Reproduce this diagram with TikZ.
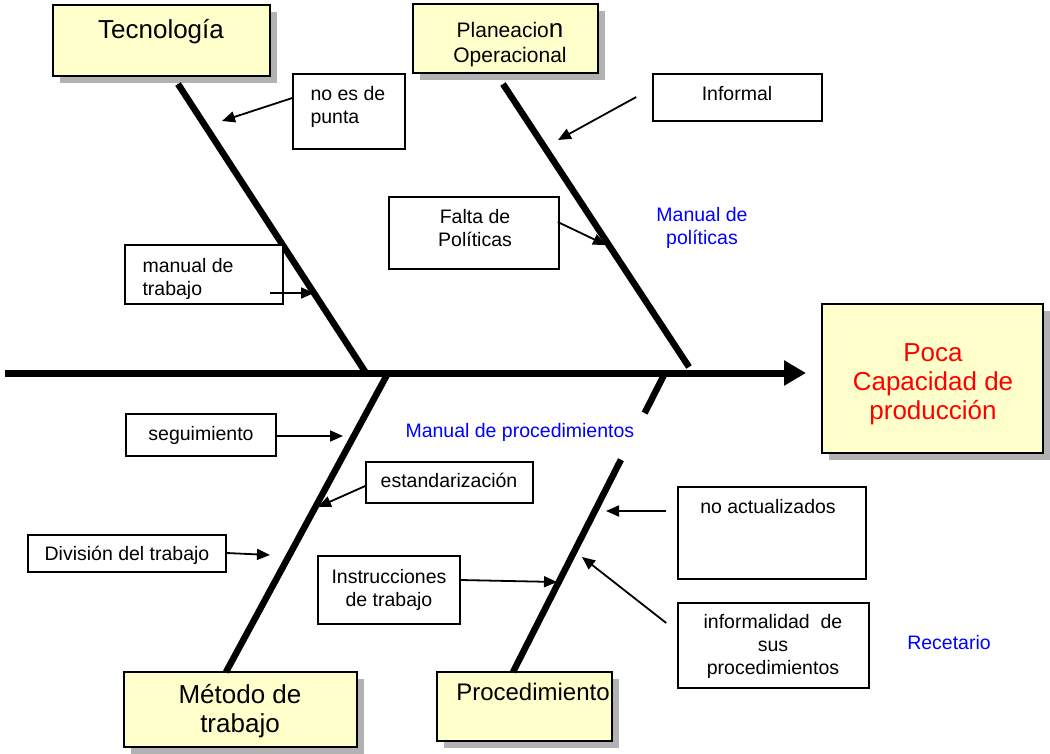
\documentclass[tikz,border=0pt]{standalone}
\usepackage{fontspec}
\setmainfont{Liberation Sans}
\usetikzlibrary{arrows.meta,shadows,calc}
\definecolor{boxyellow}{HTML}{FFFFCC}
\definecolor{shgray}{HTML}{B2B2B2}
\definecolor{txtblue}{HTML}{0000FF}
\definecolor{txtred}{HTML}{FF0000}
\begin{document}
\begin{tikzpicture}[x=1pt,y=-1pt,
  catbox/.style={draw=black, line width=2pt, fill=boxyellow, inner sep=0pt,
    drop shadow={shadow xshift=7pt, shadow yshift=-7pt, fill=shgray, opacity=1}},
  causebox/.style={draw=black, line width=1.5pt, fill=white, inner sep=0pt},
  bone/.style={line width=6.5pt},
  spine/.style={line width=7pt, -{Triangle[length=22pt,width=24pt]}},
  arr/.style={line width=1.8pt, -{Triangle[length=13pt,width=11pt]}},
  small/.style={font=\fontsize{19.5}{23}\selectfont},
  big/.style={font=\fontsize{26}{29}\selectfont},
  note/.style={small, text=txtblue}
]
\useasboundingbox (0,0) rectangle (1050,753);

% category boxes
\node[catbox, minimum width=217pt, minimum height=71pt] (tec) at (161.5,40.5) {};
\node[catbox, minimum width=185pt, minimum height=69pt] (plan) at (505.5,38.5) {};
\node[catbox, minimum width=221pt, minimum height=149pt] (poca) at (932.5,378.5) {};
\node[catbox, minimum width=233pt, minimum height=75pt] (met) at (240.5,709.5) {};
\node[catbox, minimum width=175pt, minimum height=69pt] (proc) at (524.5,706.5) {};

\node[big, anchor=base] (tect) at (161,38) {Tecnología};
\node[font=\fontsize{21}{25}\selectfont, anchor=base, align=center] (plant) at (510,62)
  {Planeacio{\fontsize{26}{25}\selectfont n}\\Operacional};
\node[big, anchor=base, align=center, text=txtred] (pocat) at (933,419)
  {Poca\\Capacidad de\\producción};
\node[big, anchor=base, align=center] (mett) at (240,732) {Método de\\trabajo};
\node[font=\fontsize{24}{28}\selectfont, anchor=base] (proct) at (533,700) {Procedimiento};

% spine
\coordinate (spineL) at (5,373);
\coordinate (spineR) at (806,373);
\draw[spine] (spineL) -- (spineR);

% bones
\coordinate (t1a) at (178,84);  \coordinate (t1b) at (366,373);
\coordinate (t2a) at (503,84);  \coordinate (t2b) at (689,367);
\coordinate (b1a) at (388,373); \coordinate (b1b) at (226,672);
\coordinate (b2a) at (665,373); \coordinate (b2b) at (513,672);
\draw[bone] (t1a) -- (t1b);
\draw[bone] (t2a) -- (t2b);
\draw[bone] (b1a) -- (b1b);
\draw[bone] (b2a) -- ($(b2a)!0.134!(b2b)$);
\draw[bone] ($(b2a)!0.29!(b2b)$) -- (b2b);

% cause boxes
\node[causebox, minimum width=112pt, minimum height=75pt] (nopunta) at (349,111.5) {};
\node[causebox, minimum width=158pt, minimum height=59pt] (manual) at (204,274.5) {};
\node[causebox, minimum width=170pt, minimum height=72pt] (falta) at (474,233) {};
\node[causebox, minimum width=169pt, minimum height=47pt] (informal) at (737.5,97.5) {};
\node[causebox, minimum width=150pt, minimum height=42pt] (seguim) at (201,435) {};
\node[causebox, minimum width=167pt, minimum height=41pt] (estand) at (449.5,482.5) {};
\node[causebox, minimum width=198pt, minimum height=37pt] (division) at (127,553.5) {};
\node[causebox, minimum width=142pt, minimum height=68pt] (instr) at (389,590) {};
\node[causebox, minimum width=188pt, minimum height=92pt] (noact) at (772,533) {};
\node[causebox, minimum width=191pt, minimum height=85pt] (informa) at (773.5,645.5) {};

% texts
\node[small, anchor=base west, align=left] (nopuntat) at (307,123) {no es de\\punta};
\node[small, anchor=base west, align=left] (manualt) at (139,295) {manual de\\trabajo};
\node[small, anchor=base, align=center] (faltat) at (475,246) {Falta de\\Políticas};
\node[small, anchor=base] (informalt) at (737,100) {Informal};
\node[note, anchor=base, align=center] (mpol) at (702,244) {Manual de\\políticas};
\node[small, anchor=base] (seguimt) at (201,440) {seguimiento};
\node[note, anchor=base west] (mproc) at (402,437) {Manual de procedimientos};
\node[small, anchor=base] (estandt) at (449,487) {estandarización};
\node[small, anchor=base] (divisiont) at (127,560) {División del trabajo};
\node[small, anchor=base, align=center] (instrt) at (389,606) {Instrucciones\\de trabajo};
\node[small, anchor=base] (noactt) at (768,513) {no actualizados};
\node[small, anchor=base, align=center] (informat) at (773,674) {informalidad~ de\\sus\\procedimientos};
\node[note, anchor=base] (recet) at (949,649) {Recetario};

% arrow tips on bones
\coordinate (p1) at (222,121);
\coordinate (p2) at (314,293);
\coordinate (p3) at (606,245);
\coordinate (p4) at (558,140);
\coordinate (p5) at (343,436);
\coordinate (p6) at (318,507);
\coordinate (p7) at (270,555);
\coordinate (p8) at (557,582);
\coordinate (p9) at (606,511);
\coordinate (p10) at (582,557);

\draw[arr] (nopunta.west |- 0,98) -- (p1);
\draw[arr] ([xshift=-14pt]manual.east |- 0,293) -- (p2);
\draw[arr] ([xshift=-2pt]falta.east |- 0,222) -- (p3);
\draw[arr] ([xshift=-16pt]informal.west |- 0,97) -- (p4);
\draw[arr] (seguim.east |- 0,436) -- (p5);
\draw[arr] (estand.west |- 0,486) -- (p6);
\draw[arr] (division.east |- 0,553) -- (p7);
\draw[arr] (instr.east |- 0,580) -- (p8);
\draw[arr] ([xshift=-11pt]noact.west |- 0,511) -- (p9);
\draw[arr] ([xshift=-11pt]informa.west |- 0,623) -- (p10);
\end{tikzpicture}
\end{document}
